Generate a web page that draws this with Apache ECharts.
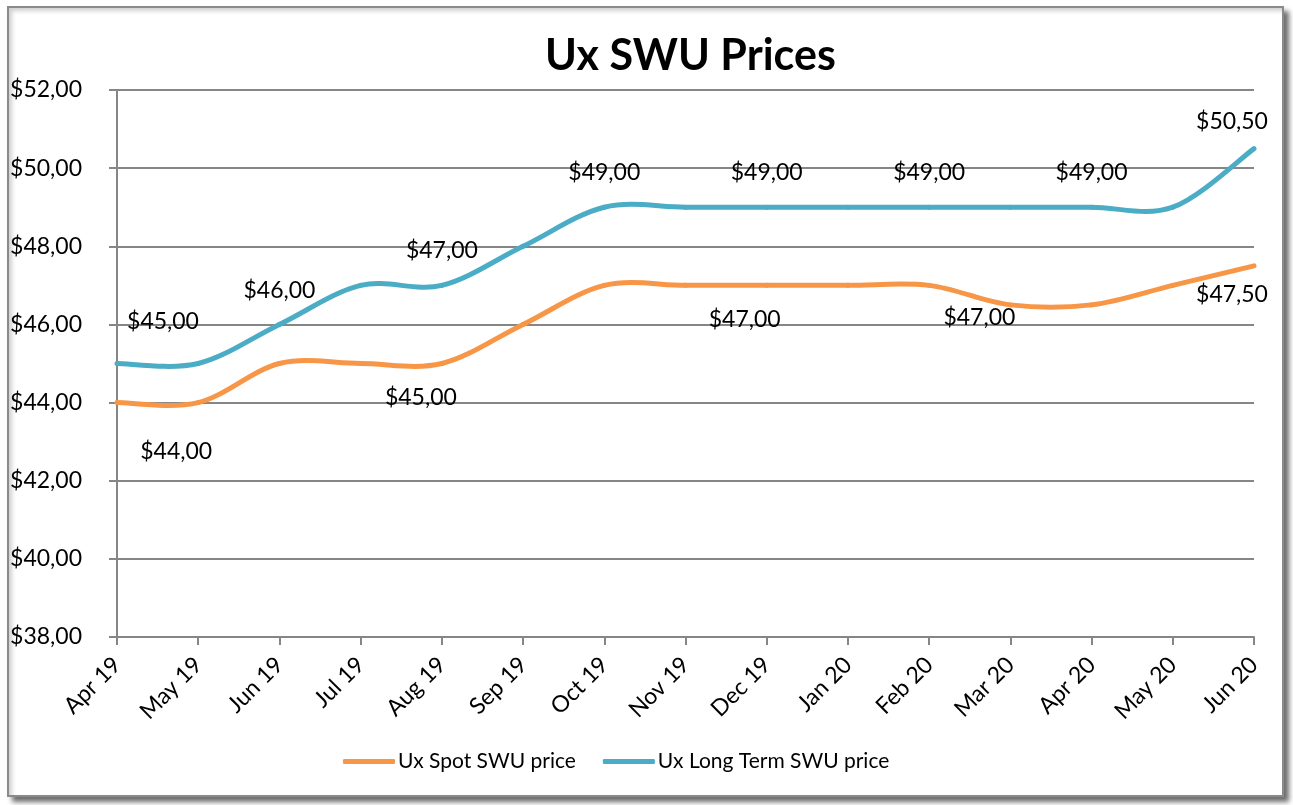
<!DOCTYPE html>
<html lang="en">
<head>
<meta charset="UTF-8">
<title>Ux SWU Prices</title>
<script src="https://cdn.jsdelivr.net/npm/echarts@6/dist/echarts.min.js"></script>
<style>
    html, body { margin: 0; padding: 0; background: #ffffff; }
    #frame {
        position: absolute;
        left: 7px; top: 6px;
        width: 1273px; height: 787px;
        border: 2px solid #8a8a8a;
        box-shadow: 5px 5px 5px #6e6e6e, inset 3px 3px 4px #d0d0d0;
        background: #ffffff;
    }
    #main {
        position: absolute;
        left: 0; top: 0;
        width: 1293px; height: 805px;
    }
</style>
</head>
<body>
<div id="frame"></div>
<div id="main"></div>
<script type="text/javascript">
    // data
    var months = ['Apr 19', 'May 19', 'Jun 19', 'Jul 19', 'Aug 19', 'Sep 19', 'Oct 19', 'Nov 19',
                  'Dec 19', 'Jan 20', 'Feb 20', 'Mar 20', 'Apr 20', 'May 20', 'Jun 20'];
    var spotPrice = [44, 44, 45, 45, 45, 46, 47, 47, 47, 47, 47, 46.5, 46.5, 47, 47.5];
    var longTermPrice = [45, 45, 46, 47, 47, 48, 49, 49, 49, 49, 49, 49, 49, 49, 50.5];
    // data labels as shown on the chart (index -> text)
    var spotLabels = {1: '$44,00', 4: '$45,00', 8: '$47,00', 11: '$47,00', 14: '$47,50'};
    var longTermLabels = {0: '$45,00', 2: '$46,00', 4: '$47,00', 6: '$49,00', 8: '$49,00',
                          10: '$49,00', 12: '$49,00', 14: '$50,50'};

    var fontName = 'Lato, "Open Sans", sans-serif';
    var spotColor = '#F79646';
    var longColor = '#4BACC6';

    // label placement (offsets in px from the point)
    var spotOffset = {1: [-22, 49], 4: [-21, 34], 8: [-22, 34], 11: [-31, 13], 14: [-22, 29]};
    var longOffset = {0: [46, -42], 2: [0, -34], 4: [0, -35], 6: [0, -35], 8: [0, -35],
                      10: [0, -35], 12: [0, -35], 14: [-22, -27]};

    function buildData(values, labels, offsets) {
        return values.map(function (v, i) {
            if (labels[i] === undefined) return v;
            return {
                value: v,
                label: {
                    show: true,
                    position: 'inside',
                    offset: offsets[i],
                    formatter: labels[i]
                }
            };
        });
    }

    // Excel-like smoothed line: one bezier segment per point pair (Catmull-Rom control points)
    function smoothSegment(values, color) {
        return function (params, api) {
            var i = params.dataIndex;
            if (i >= values.length - 1) return null;
            var p0 = api.coord([Math.max(i - 1, 0), values[Math.max(i - 1, 0)]]);
            var p1 = api.coord([i, values[i]]);
            var p2 = api.coord([i + 1, values[i + 1]]);
            var j = Math.min(i + 2, values.length - 1);
            var p3 = api.coord([j, values[j]]);
            return {
                type: 'bezierCurve',
                shape: {
                    x1: p1[0], y1: p1[1],
                    cpx1: p1[0] + (p2[0] - p0[0]) / 6, cpy1: p1[1] + (p2[1] - p0[1]) / 6,
                    cpx2: p2[0] - (p3[0] - p1[0]) / 6, cpy2: p2[1] - (p3[1] - p1[1]) / 6,
                    x2: p2[0], y2: p2[1]
                },
                style: { fill: null, stroke: color, lineWidth: 5, lineCap: 'round' },
                silent: true
            };
        };
    }

    var myChart = echarts.init(document.getElementById('main'));

    var option = {
        backgroundColor: 'transparent',
        animation: false,
        title: {
            text: 'Ux SWU Prices',
            left: 540,
            top: 30,
            textStyle: {
                fontFamily: fontName,
                fontWeight: 'bold',
                fontSize: 43,
                color: '#000000'
            }
        },
        legend: {
            bottom: 28,
            left: 338,
            itemWidth: 52,
            itemHeight: 5,
            itemGap: 27,
            icon: 'roundRect',
            textStyle: {
                fontFamily: fontName,
                fontSize: 21,
                color: '#000000',
                padding: [0, 0, 0, -2]
            },
            data: [
                { name: 'Ux Spot SWU price', itemStyle: { color: spotColor, opacity: 1 } },
                { name: 'Ux Long Term SWU price', itemStyle: { color: longColor, opacity: 1 } }
            ]
        },
        grid: {
            left: 117,
            right: 39,
            top: 90,
            bottom: 168
        },
        xAxis: {
            type: 'category',
            boundaryGap: false,
            data: months,
            axisLine: { lineStyle: { color: '#868686', width: 2 } },
            axisTick: { show: true, length: 8, alignWithLabel: true, lineStyle: { color: '#868686', width: 2 } },
            axisLabel: {
                rotate: 45,
                margin: 24,
                interval: 0,
                fontFamily: fontName,
                fontSize: 23,
                color: '#000000'
            },
            splitLine: { show: false }
        },
        yAxis: {
            type: 'value',
            min: 38,
            max: 52,
            interval: 2,
            axisLine: { show: true, lineStyle: { color: '#868686', width: 2 } },
            axisTick: { show: true, length: 8, lineStyle: { color: '#868686', width: 2 } },
            axisLabel: {
                margin: 35,
                fontFamily: fontName,
                fontSize: 23,
                color: '#000000',
                formatter: function (v) {
                    return '$' + v.toFixed(2).replace('.', ',');
                }
            },
            splitLine: { show: true, lineStyle: { color: '#868686', width: 2 } }
        },
        series: [
            {
                name: 'Ux Spot SWU price',
                type: 'custom',
                renderItem: smoothSegment(spotPrice, spotColor),
                itemStyle: { color: spotColor },
                data: spotPrice.map(function (v, i) { return [i, v]; }),
                z: 2
            },
            {
                name: 'Ux Long Term SWU price',
                type: 'custom',
                renderItem: smoothSegment(longTermPrice, longColor),
                itemStyle: { color: longColor },
                data: longTermPrice.map(function (v, i) { return [i, v]; }),
                z: 2
            },
            {
                name: 'Ux Spot SWU price',
                type: 'line',
                symbol: 'circle',
                symbolSize: 2,
                showSymbol: true,
                itemStyle: { color: spotColor },
                lineStyle: { width: 0, opacity: 0 },
                label: {
                    fontFamily: fontName,
                    fontSize: 23,
                    color: '#000000'
                },
                data: buildData(spotPrice, spotLabels, spotOffset),
                z: 3
            },
            {
                name: 'Ux Long Term SWU price',
                type: 'line',
                symbol: 'circle',
                symbolSize: 2,
                showSymbol: true,
                itemStyle: { color: longColor },
                lineStyle: { width: 0, opacity: 0 },
                label: {
                    fontFamily: fontName,
                    fontSize: 23,
                    color: '#000000'
                },
                data: buildData(longTermPrice, longTermLabels, longOffset),
                z: 3
            }
        ]
    };

    myChart.setOption(option);
</script>
</body>
</html>
